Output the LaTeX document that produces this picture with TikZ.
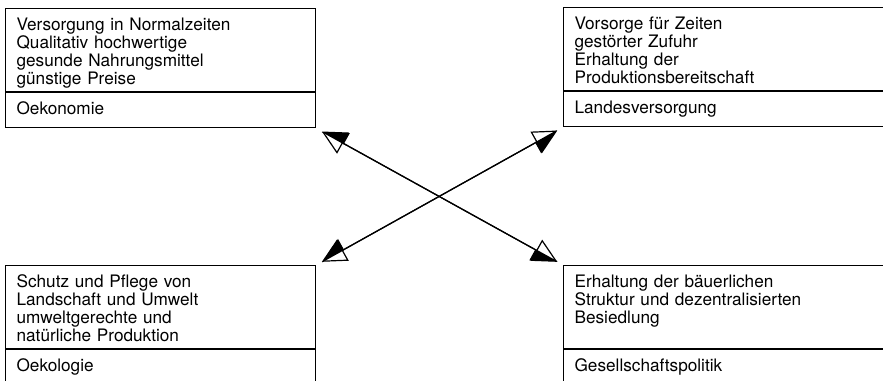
\documentclass[tikz,border=0pt]{standalone}
\usepackage{fontspec}
\setmainfont{TeX Gyre Heros}
\usetikzlibrary{
    arrows.meta,
    positioning,
}

\begin{document}
\begin{tikzpicture}[
    x=0.75pt, y=-0.75pt,
    font=\fontsize{12.9pt}{13.5pt}\selectfont,
    field/.style={draw, line width=0.9pt, align=left, inner xsep=8.25pt, inner ysep=0pt, text width=216pt},
    info/.style={field, anchor=north west, text height=16.5pt, text depth=45.75pt},
    fieldname/.style={field, text height=16.1pt, text depth=10.1pt},
    wide/.style={text width=240pt},
    link/.style={line width=0.9pt, shorten <=4.9pt, shorten >=4.9pt,
        {Triangle[open, length=18pt, width=18pt]}-{Triangle[open, length=18pt, width=18pt]}},
    half/.style={line width=0.9pt, shorten <=4.9pt, shorten >=4.9pt,
        {Triangle[right, length=18pt, width=18pt]}-{Triangle[right, length=18pt, width=18pt]}},
]
\useasboundingbox (0,0) rectangle (883,380);
\clip (0,0) rectangle (883,380);

\node[info] (oekon) at (5,8) {Versorgung in Normalzeiten\\Qualitativ hochwertige\\gesunde Nahrungsmittel\\günstige Preise};
\node[fieldname, below=0pt of oekon] (oekonL) {Oekonomie};

\node[info, wide] (landes) at (563,7) {Vorsorge für Zeiten\\gestörter Zufuhr\\Erhaltung der\\Produktionsbereitschaft};
\node[fieldname, wide, below=0pt of landes] (landesL) {Landesversorgung};

\node[info] (oekol) at (5,265) {Schutz und Pflege von\\Landschaft und Umwelt\\umweltgerechte und\\natürliche Produktion};
\node[fieldname, below=0pt of oekol] (oekolL) {Oekologie};

\node[info, wide] (gesell) at (563,265) {Erhaltung der bäuerlichen\\Struktur und dezentralisierten\\Besiedlung};
\node[fieldname, wide, below=0pt of gesell] (gesellL) {Gesellschaftspolitik};

% cross of relations
\draw[link] (oekonL.south east) -- (gesell.north west);
\draw[half] (oekonL.south east) -- (gesell.north west);
\draw[link] (oekol.north east) -- (landesL.south west);
\draw[half] (oekol.north east) -- (landesL.south west);

\end{tikzpicture}
\end{document}
